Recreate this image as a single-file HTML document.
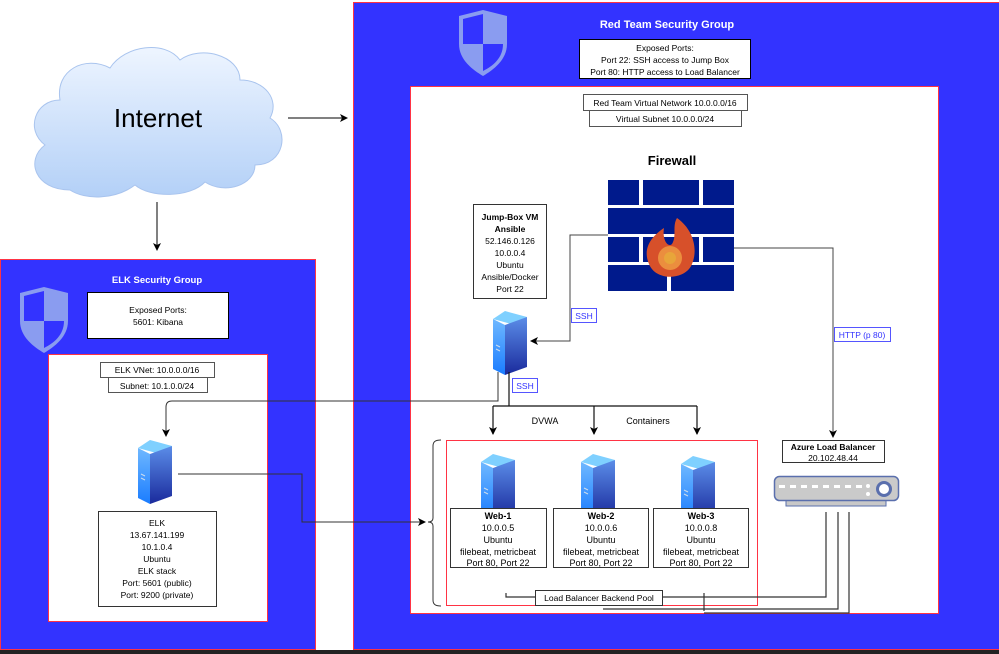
<!DOCTYPE html>
<html><head><meta charset="utf-8"><style>
html,body{margin:0;padding:0;background:#fff;width:999px;height:654px;overflow:hidden}
text{font-family:"Liberation Sans",Arial,sans-serif}
</style></head><body>
<svg width="999" height="654" viewBox="0 0 999 654" xmlns="http://www.w3.org/2000/svg">
<defs>
<linearGradient id="sf" x1="0" y1="0" x2="0" y2="1"><stop offset="0" stop-color="#6fb8ff"/><stop offset="1" stop-color="#1a7cff"/></linearGradient>
<linearGradient id="ss" x1="0" y1="0" x2="0" y2="1"><stop offset="0" stop-color="#5b8de8"/><stop offset="1" stop-color="#1a2a9c"/></linearGradient>
<linearGradient id="cl" x1="0" y1="0" x2="0" y2="1"><stop offset="0" stop-color="#eef5ff"/><stop offset="1" stop-color="#b3d0f7"/></linearGradient>
<marker id="ar" markerWidth="8" markerHeight="8" refX="7" refY="4" orient="auto" markerUnits="userSpaceOnUse"><path d="M0,0 L8,4 L0,8 L2,4 Z" fill="#000"/></marker>
<g id="srv">
<path d="M0,10 L12,2 L34,8 L22,16 Z" fill="#7fd0ff"/>
<path d="M0,10 L12,16 L12,66 L0,60 Z" fill="url(#sf)"/>
<path d="M12,16 L34,8 L34,58 L12,66 Z" fill="url(#ss)"/>
<path d="M3,36 L7,38 M3,40 L7,42" stroke="#cde" stroke-width="1"/>
</g>
<g id="shield">
<path d="M0,6 L24,0 L48,6 L48,34 C48,50 34,60 24,66 C14,60 0,50 0,34 Z" fill="#8a9cf0"/>
<path d="M4,9 L24,4 L24,34 L4,34 Z M24,34 L44,34 C44,48 34,56 24,61 Z" fill="#3333ff"/>
</g>
</defs>

<rect x="353.5" y="2.5" width="646" height="647" fill="#3333ff" stroke="#ff3344" stroke-width="1"/>
<use href="#shield" x="459" y="10"/>
<text x="667" y="28" font-size="11" font-weight="bold" fill="#fff" text-anchor="middle">Red Team Security Group</text>
<rect x="579.5" y="39.5" width="171" height="39" fill="#fff" stroke="#000"/>
<text font-size="8.5" text-anchor="middle" fill="#000"><tspan x="665" y="51">Exposed Ports:</tspan><tspan x="665" y="63">Port 22: SSH access to Jump Box</tspan><tspan x="665" y="75">Port 80: HTTP access to Load Balancer</tspan></text>
<rect x="410.5" y="86.5" width="528" height="527" fill="#fff" stroke="#ff3344"/>
<rect x="583.5" y="94.5" width="164" height="16" fill="#fff" stroke="#555"/>
<text x="665" y="106" font-size="8.5" text-anchor="middle">Red Team Virtual Network 10.0.0.0/16</text>
<rect x="589.5" y="110.5" width="152" height="16" fill="#fff" stroke="#555"/>
<text x="665" y="122" font-size="8.5" text-anchor="middle">Virtual Subnet 10.0.0.0/24</text>
<text x="672" y="165" font-size="13" font-weight="bold" text-anchor="middle">Firewall</text>
<g fill="#001a8c">
<rect x="608" y="180" width="31" height="25"/><rect x="643" y="180" width="56" height="25"/><rect x="703" y="180" width="31" height="25"/>
<rect x="608" y="208" width="126" height="26"/>
<rect x="608" y="237" width="31" height="25"/><rect x="643" y="237" width="56" height="25"/><rect x="703" y="237" width="31" height="25"/>
<rect x="608" y="265" width="59" height="26"/><rect x="671" y="265" width="63" height="26"/>
</g>
<path d="M677,218 C694,230 698,250 692,264 C686,280 656,282 649,264 C642,248 652,236 664,228 C662,240 668,248 672,244 C677,236 672,226 677,218 Z" fill="#d7502a"/>
<circle cx="670" cy="258" r="12" fill="#eb8e3e"/><circle cx="670" cy="258" r="6" fill="#e8a53a"/>

<rect x="473.5" y="204.5" width="73" height="94" fill="#fff" stroke="#333"/>
<text font-size="8.5" text-anchor="middle"><tspan x="510" y="220" font-weight="bold">Jump-Box VM</tspan><tspan x="510" y="232" font-weight="bold">Ansible</tspan><tspan x="510" y="244">52.146.0.126</tspan><tspan x="510" y="256">10.0.0.4</tspan><tspan x="510" y="268">Ubuntu</tspan><tspan x="510" y="280">Ansible/Docker</tspan><tspan x="510" y="292">Port 22</tspan></text>
<use href="#srv" x="493" y="309"/>

<g fill="none" stroke="#444" stroke-width="1">
<path d="M608,235 L570,235 L570,341 L531,341" marker-end="url(#ar)"/>
<path d="M734,248 L833,248 L833,437" marker-end="url(#ar)"/>
</g>
<rect x="571.5" y="308.5" width="25" height="14" fill="#fff" stroke="#55f"/>
<text x="584" y="319" font-size="8.5" fill="#33f" text-anchor="middle">SSH</text>
<rect x="834.5" y="327.5" width="56" height="14" fill="#fff" stroke="#55f"/>
<text x="862" y="338" font-size="8.5" fill="#33f" text-anchor="middle">HTTP (p 80)</text>

<g fill="none" stroke="#111" stroke-width="1.2">
<path d="M509,372 L509,406"/>
<path d="M493,406 L697,406"/>
<path d="M493,406 L493,434" marker-end="url(#ar)"/>
<path d="M594,406 L594,434" marker-end="url(#ar)"/>
<path d="M697,406 L697,434" marker-end="url(#ar)"/>
</g>
<rect x="512.5" y="378.5" width="25" height="14" fill="#fff" stroke="#55f"/>
<text x="525" y="389" font-size="8.5" fill="#33f" text-anchor="middle">SSH</text>
<text x="545" y="424" font-size="9" text-anchor="middle">DVWA</text>
<text x="648" y="424" font-size="9" text-anchor="middle">Containers</text>

<path d="M441,440 C435,440 433,442 433,446 L433,518 C433,521 431,522 428,522 C431,522 433,523 433,526 L433,600 C433,604 435,606 441,606" fill="none" stroke="#333"/>
<rect x="446.5" y="440.5" width="311" height="165" fill="none" stroke="#ff3344"/>
<use href="#srv" x="481" y="452"/><use href="#srv" x="581" y="452"/><use href="#srv" x="681" y="454"/>
<g font-size="9" text-anchor="middle">
<rect x="450.5" y="508.5" width="96" height="59" fill="#fff" stroke="#333"/>
<text><tspan x="498" y="519" font-weight="bold">Web-1</tspan><tspan x="498" y="531">10.0.0.5</tspan><tspan x="498" y="543">Ubuntu</tspan><tspan x="498" y="555">filebeat, metricbeat</tspan><tspan x="498" y="566">Port 80, Port 22</tspan></text>
<rect x="553.5" y="508.5" width="95" height="59" fill="#fff" stroke="#333"/>
<text><tspan x="601" y="519" font-weight="bold">Web-2</tspan><tspan x="601" y="531">10.0.0.6</tspan><tspan x="601" y="543">Ubuntu</tspan><tspan x="601" y="555">filebeat, metricbeat</tspan><tspan x="601" y="566">Port 80, Port 22</tspan></text>
<rect x="653.5" y="508.5" width="95" height="59" fill="#fff" stroke="#333"/>
<text><tspan x="701" y="519" font-weight="bold">Web-3</tspan><tspan x="701" y="531">10.0.0.8</tspan><tspan x="701" y="543">Ubuntu</tspan><tspan x="701" y="555">filebeat, metricbeat</tspan><tspan x="701" y="566">Port 80, Port 22</tspan></text>
</g>
<g fill="none" stroke="#333" stroke-width="1.2">
<path d="M826,512 L826,597 L506,597 L506,593"/>
<path d="M838,512 L838,609 L603,609"/>
<path d="M849,512 L849,613 L704,613"/>
<path d="M602,594 L602,604 M704,593 L704,611"/>
</g>
<rect x="535.5" y="590.5" width="127" height="15" fill="#fff" stroke="#333"/>
<text x="599" y="601" font-size="8.5" text-anchor="middle">Load Balancer Backend Pool</text>

<rect x="782.5" y="440.5" width="102" height="22" fill="#fff" stroke="#333"/>
<text font-size="8.5" text-anchor="middle"><tspan x="833" y="450" font-weight="bold">Azure Load Balancer</tspan><tspan x="833" y="461">20.102.48.44</tspan></text>
<rect x="786" y="498" width="100" height="8" fill="#c8c8c8" stroke="#5a6fad"/>
<rect x="774.5" y="476.5" width="124" height="24" rx="5" fill="#cacaca" stroke="#5a6fad" stroke-width="1.5"/>
<g fill="#fff"><rect x="779" y="485" width="6" height="3"/><rect x="790" y="485" width="6" height="3"/><rect x="801" y="485" width="6" height="3"/><rect x="812" y="485" width="6" height="3"/><rect x="823" y="485" width="6" height="3"/><rect x="834" y="485" width="6" height="3"/><rect x="845" y="485" width="6" height="3"/><rect x="856" y="485" width="6" height="3"/><circle cx="868" cy="486" r="2"/><circle cx="868" cy="494" r="2"/></g>
<circle cx="884" cy="489" r="8" fill="#5a6fad"/><circle cx="884" cy="489" r="5" fill="#fff"/>

<rect x="0.5" y="259.5" width="315" height="390" fill="#3333ff" stroke="#ff3344"/>
<use href="#shield" x="20" y="287"/>
<text x="157" y="283" font-size="9.5" font-weight="bold" fill="#fff" text-anchor="middle">ELK Security Group</text>
<rect x="87.5" y="292.5" width="141" height="46" fill="#fff" stroke="#000"/>
<text font-size="8.5" text-anchor="middle"><tspan x="158" y="313">Exposed Ports:</tspan><tspan x="158" y="325">5601: Kibana</tspan></text>
<rect x="48.5" y="354.5" width="219" height="267" fill="#fff" stroke="#ff3344"/>
<rect x="100.5" y="362.5" width="114" height="15" fill="#fff" stroke="#555"/>
<text x="157" y="373" font-size="8.5" text-anchor="middle">ELK VNet: 10.0.0.0/16</text>
<rect x="108.5" y="377.5" width="99" height="15" fill="#fff" stroke="#555"/>
<text x="157" y="389" font-size="8.5" text-anchor="middle">Subnet: 10.1.0.0/24</text>
<use href="#srv" x="138" y="438"/>
<rect x="98.5" y="511.5" width="118" height="95" fill="#fff" stroke="#333"/>
<text font-size="8.5" text-anchor="middle"><tspan x="157" y="526">ELK</tspan><tspan x="157" y="538">13.67.141.199</tspan><tspan x="157" y="550">10.1.0.4</tspan><tspan x="157" y="562">Ubuntu</tspan><tspan x="157" y="574">ELK stack</tspan><tspan x="157" y="586">Port: 5601 (public)</tspan><tspan x="157" y="598">Port: 9200 (private)</tspan></text>
<g fill="none" stroke="#333" stroke-width="1">
<path d="M498,372 L498,401 L172,401 Q166,401 166,407 L166,436" marker-end="url(#ar)"/>
<path d="M178,474 L302,474 L302,522 L425,522" marker-end="url(#ar)"/>
</g>

<path d="M70,190 C35,190 25,160 45,145 C25,130 35,100 60,100 C55,70 85,55 110,68 C125,45 165,40 180,60 C200,45 240,55 240,80 C265,80 280,100 270,118 C290,130 285,165 255,165 C255,185 225,195 205,182 C190,198 150,198 135,185 C115,200 85,200 70,190 Z" fill="url(#cl)" stroke="#a9c4ee"/>
<text x="158" y="127" font-size="26" text-anchor="middle">Internet</text>
<g fill="none" stroke="#000">
<path d="M288,118 L347,118" marker-end="url(#ar)"/>
<path d="M157,202 L157,250" marker-end="url(#ar)"/>
</g>

<rect x="0" y="650" width="999" height="4" fill="#222"/>
</svg>
</body></html>
